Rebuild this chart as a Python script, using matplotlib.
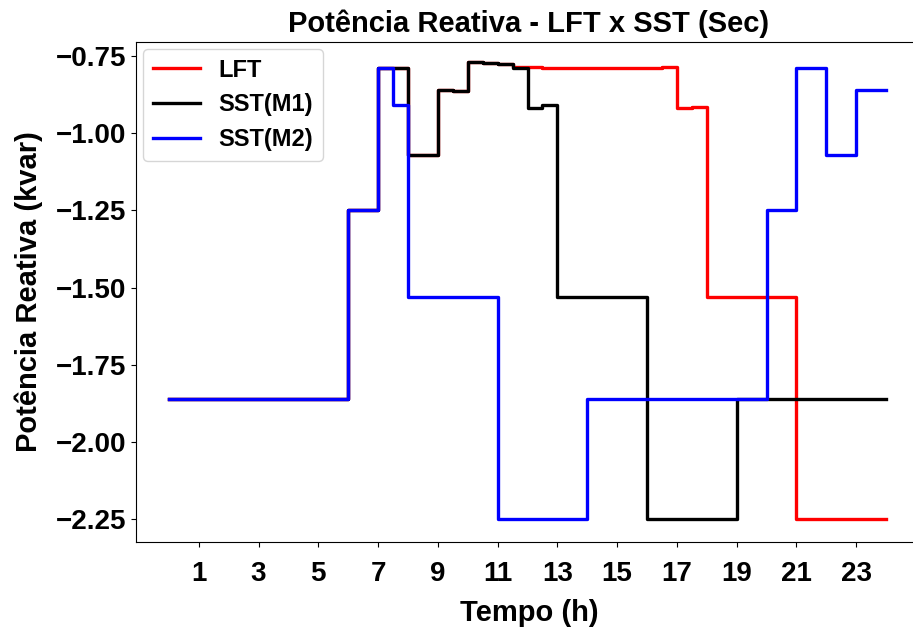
#!/usr/bin/env python

from matplotlib import pyplot as plt
import numpy as np

plt.rcParams['font.family'] = ['Liberation Sans', 'DejaVu Sans']
plt.rcParams['font.weight'] = 'bold'

# half-hour steps, 0h .. 23.5h
tempo = np.arange(0, 24, 0.5)

lft = [-1.86]*12 + [-1.25]*2 + [-0.79, -0.79, -1.07, -1.07, -0.86, -0.862,
       -0.77, -0.773, -0.775, -0.785, -0.785, -0.79, -0.79, -0.79, -0.79,
       -0.79, -0.79, -0.788, -0.788, -0.787, -0.92, -0.915] + [-1.53]*6 + [-2.25]*6

sst_m1 = [-1.86]*12 + [-1.25]*2 + [-0.79, -0.79, -1.07, -1.07, -0.86, -0.862,
          -0.77, -0.773, -0.775, -0.79, -0.92, -0.91] + [-1.53]*6 + [-2.25]*6 + [-1.86]*10

sst_m2 = [-1.86]*12 + [-1.25]*2 + [-0.79, -0.91] + [-1.53]*6 + [-2.25]*6 + \
         [-1.86]*12 + [-1.25]*2 + [-0.79]*2 + [-1.07]*2 + [-0.86]*2

x = np.append(tempo, 24)

fig = plt.figure(figsize=(9.13, 6.3), dpi=100)
ax = fig.add_axes([136/913, 88/630, (922-136)/913, 500/630])
ax.step(x, lft + [lft[-1]], where='post', color='red', lw=2.4, label='LFT')
ax.step(x, sst_m1 + [sst_m1[-1]], where='post', color='black', lw=2.4, label='SST(M1)')
ax.step(x, sst_m2 + [sst_m2[-1]], where='post', color='blue', lw=2.4, label='SST(M2)')

ax.set_xlim(-1.1, 25.2)
ax.set_ylim(-2.3245, -0.7046)
ax.set_xticks(np.arange(1, 24, 2))
ax.set_yticks([-0.75, -1.0, -1.25, -1.5, -1.75, -2.0, -2.25])
ax.tick_params(axis='x', labelsize=20, pad=10)
ax.tick_params(axis='y', labelsize=20)
for lab in ax.get_xticklabels() + ax.get_yticklabels():
    lab.set_fontweight('bold')
ax.set_title("Potência Reativa - LFT x SST (Sec)", fontsize=21, fontweight='bold', pad=7)
ax.set_xlabel("Tempo (h)", fontsize=21, fontweight='bold', labelpad=9)
ax.set_ylabel("Potência Reativa (kvar)", fontsize=21, fontweight='bold', labelpad=9)
ax.legend(loc='upper left', prop={'size': 17, 'weight': 'bold'},
          borderaxespad=0.3)

fig.savefig("out.png", dpi=100)
